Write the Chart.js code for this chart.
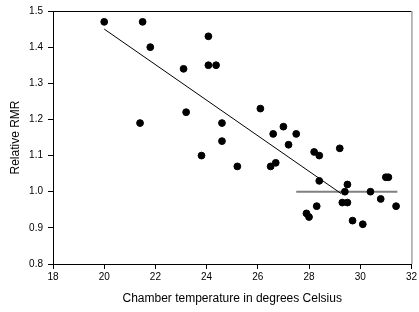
<!DOCTYPE html>
<html lang="en">
<head>
    <meta charset="UTF-8">
    <title>Relative RMR vs chamber temperature</title>
    <script src="https://cdn.jsdelivr.net/npm/chart.js"></script>
    <style>
        html, body { margin: 0; padding: 0; background: #fff; }
        #wrap { width: 419px; height: 312px; }
    </style>
</head>
<body>
<div id="wrap"><canvas id="rmrChart" width="419" height="312"></canvas></div>

<script>
    const tempC = [20.0, 21.5, 24.07, 21.8, 24.07, 24.37, 23.1, 23.2, 21.4, 26.1,
                   24.6, 27.0, 26.6, 27.5, 24.6, 27.2, 23.8, 25.2, 26.5, 26.7,
                   28.2, 28.4, 29.2, 31.0, 31.1, 28.4, 29.5, 29.4, 30.4, 30.8,
                   29.3, 29.5, 31.4, 28.3, 27.9, 28.0, 29.7, 30.1];
    const relRMR = [1.47, 1.47, 1.43, 1.40, 1.35, 1.35, 1.34, 1.22, 1.19, 1.23,
                    1.19, 1.18, 1.16, 1.16, 1.14, 1.13, 1.10, 1.07, 1.07, 1.08,
                    1.11, 1.10, 1.12, 1.04, 1.04, 1.03, 1.02, 1.00, 1.00, 0.98,
                    0.97, 0.97, 0.96, 0.96, 0.94, 0.93, 0.92, 0.91];

    // fitted lines (sloped segment, then flat segment)
    const slopeX = [20.0, 29.25];
    const slopeY = [1.45, 0.995];
    const flatX = [27.5, 31.45];
    const flatY = [1.0, 1.0];

    const toPts = (xs, ys) => xs.map((x, i) => ({ x: x, y: ys[i] }));

    // draws the top and right edges of the box
    const frame = {
        id: 'frame',
        afterDraw(chart) {
            const a = chart.chartArea, c = chart.ctx;
            c.save();
            c.lineWidth = 1;
            c.strokeStyle = '#000';
            c.beginPath();
            c.moveTo(a.left, a.top + 0.5);
            c.lineTo(a.right, a.top + 0.5);
            c.stroke();
            c.strokeStyle = '#777';
            c.beginPath();
            c.moveTo(a.right + 0.5, a.top);
            c.lineTo(a.right + 0.5, a.bottom);
            c.stroke();
            c.restore();
        }
    };

    Chart.defaults.font.family = '"Liberation Sans", Arial, sans-serif';
    Chart.defaults.color = '#000';

    new Chart(document.getElementById('rmrChart'), {
        type: 'scatter',
        data: {
            datasets: [
                {
                    data: toPts(tempC, relRMR),
                    backgroundColor: '#000',
                    borderColor: '#000',
                    pointRadius: 3.4,
                    pointHoverRadius: 3.4
                },
                {
                    type: 'line',
                    data: toPts(slopeX, slopeY),
                    borderColor: '#000',
                    borderWidth: 1,
                    pointRadius: 0,
                    fill: false
                },
                {
                    type: 'line',
                    data: toPts(flatX, flatY),
                    borderColor: '#808080',
                    borderWidth: 2,
                    pointRadius: 0,
                    fill: false
                }
            ]
        },
        options: {
            responsive: false,
            animation: false,
            layout: { padding: { top: 11, right: 7, left: 0, bottom: 0 } },
            plugins: {
                legend: { display: false },
                tooltip: { enabled: false }
            },
            scales: {
                x: {
                    type: 'linear',
                    min: 18, max: 32,
                    afterFit(s) { s.height = 48; },
                    grid: { drawOnChartArea: false, drawTicks: true, tickLength: 5, color: '#000' },
                    border: { display: true, color: '#000' },
                    ticks: { stepSize: 2, padding: 2, font: { size: 10 } },
                    title: {
                        display: true,
                        text: 'Chamber temperature in degrees Celsius',
                        font: { size: 12 },
                        padding: { top: 0, bottom: 6 }
                    }
                },
                y: {
                    min: 0.8, max: 1.5,
                    afterFit(s) { s.width = 53; },
                    grid: { drawOnChartArea: false, drawTicks: true, tickLength: 5, color: '#000' },
                    border: { display: true, color: '#000' },
                    ticks: {
                        stepSize: 0.1,
                        padding: 5,
                        font: { size: 10 },
                        callback: v => v.toFixed(1)
                    },
                    title: {
                        display: true,
                        text: 'Relative RMR',
                        font: { size: 12 },
                        padding: { top: 8, bottom: 0 }
                    }
                }
            }
        },
        plugins: [frame]
    });
</script>
</body>
</html>
